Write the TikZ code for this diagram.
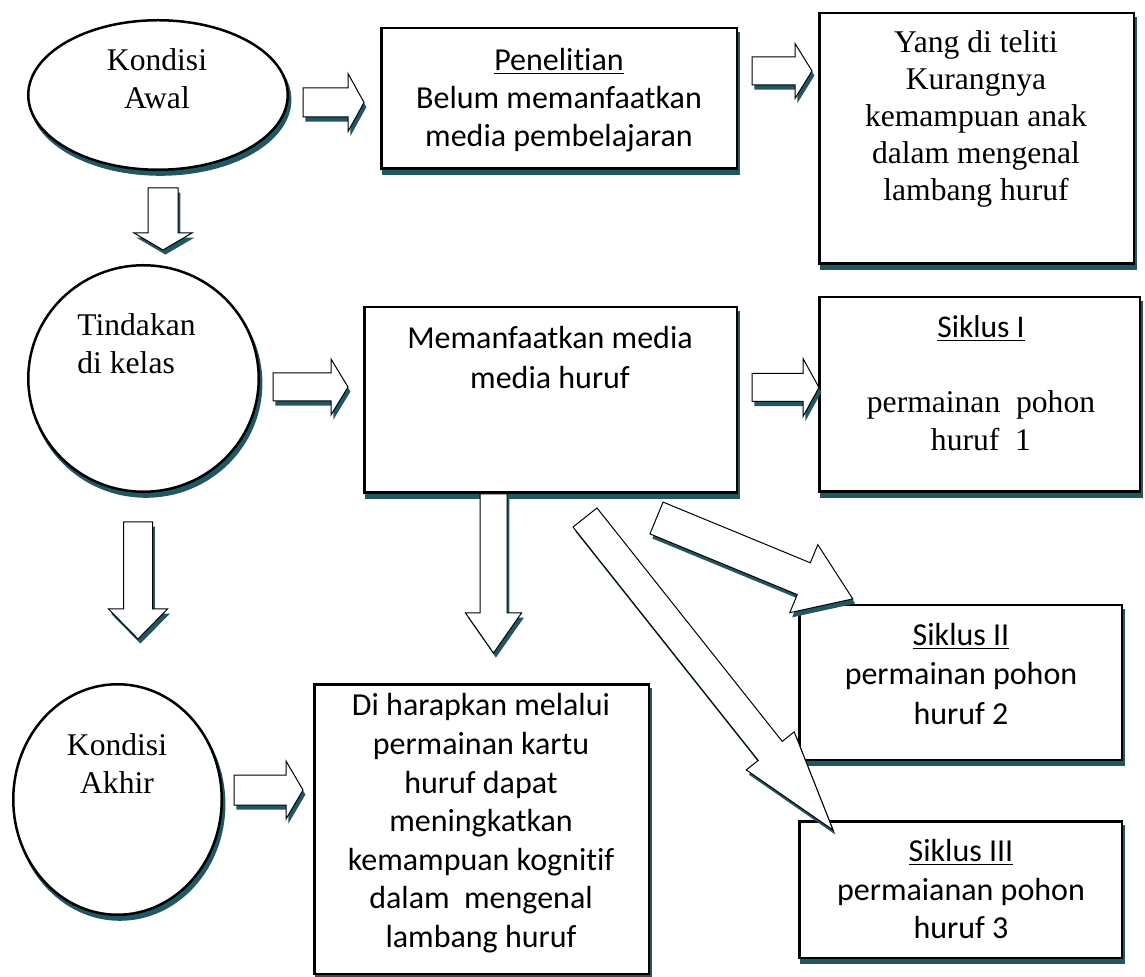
\documentclass[tikz,border=0pt]{standalone}
\usepackage{fontspec}
\setmainfont{Liberation Serif}
\newfontfamily\calibri[RawFeature=-liga]{Carlito}
\usetikzlibrary{calc,shapes.geometric,shadows}
\definecolor{bayang}{RGB}{33,87,99}

\tikzstyle{kotak}=[draw, line width=1.25pt, fill=white, inner sep=0pt,
  drop shadow={shadow xshift=1.2pt, shadow yshift=-2.4pt, fill=bayang, draw=bayang, opacity=1}]
\tikzstyle{bulat}=[kotak, ellipse]
\tikzstyle{panah}=[draw, line width=0.5pt, fill=white,
  drop shadow={shadow xshift=1.2pt, shadow yshift=-2.3pt, fill=bayang, opacity=1}]
\tikzstyle{ba}=[shift={(\p1)}, rotate=\n1]
\tikzstyle{tserif}=[font=\fontsize{15.8}{19}\selectfont, align=center, inner sep=0pt, anchor=north]
\tikzstyle{tsans}=[font=\calibri\fontsize{16}{19}\selectfont, align=center, inner sep=0pt, anchor=north]

% block arrow: from, to, half shaft, half head, head length
\newcommand{\panah}[5]{%
  \path[panah] let \p1=(#1), \p2=(#2),
    \n1={atan2(\y2-\y1,\x2-\x1)}, \n2={veclen(\x2-\x1,\y2-\y1)} in
    ([ba]0pt,-#3) -- ([ba]{\n2-#5},-#3) -- ([ba]{\n2-#5},-#4) -- ([ba]{\n2+0pt},0pt)
    -- ([ba]{\n2-#5},#4) -- ([ba]{\n2-#5},#3) -- ([ba]0pt,#3) -- cycle;}

\begin{document}
\begin{tikzpicture}[x=0.5pt, y=-0.5pt]
\useasboundingbox (0,0) rectangle (1145,977);

\node[bulat, minimum width=129.75pt, minimum height=74.75pt] (awal) at (158,95) {};
\node[bulat, minimum width=115.25pt, minimum height=113.25pt] (tindakan) at (143.5,378.5) {};
\node[bulat, minimum width=104.25pt, minimum height=115.25pt] (akhir) at (117.5,799.5) {};

\node[kotak, minimum width=177.75pt, minimum height=70.25pt] (teliti) at (559,98.5) {};
\node[kotak, minimum width=157.25pt, minimum height=125.25pt] (kurang) at (976.5,138.5) {};
\node[kotak, minimum width=186.25pt, minimum height=92.75pt] (media) at (550.5,400) {};
\node[kotak, minimum width=160.25pt, minimum height=97.25pt] (siklus1) at (979.5,394.5) {};
\node[kotak, minimum width=161.25pt, minimum height=77.25pt] (siklus2) at (960.5,682.5) {};
\node[kotak, minimum width=161.25pt, minimum height=68.25pt] (siklus3) at (960.5,889.5) {};
\node[kotak, minimum width=167.25pt, minimum height=144.75pt] (harapan) at (481.5,829) {};

\node[tserif] (tawal) at (157,43.4) {\strut Kondisi\\Awal};
\node[tserif, anchor=north west, align=left] (ttindakan) at (77,308.4) {\strut Tindakan\\di kelas};
\node[tserif] (takhir) at (117,728.4) {\strut Kondisi\\Akhir};
\node[tsans] (tteliti) at (559,43.4) {\strut\underline{Penelitian}\\Belum memanfaatkan\\media pembelajaran};
\node[tserif, font=\fontsize{15.8}{18.5}\selectfont] (tkurang) at (976,26.4)
  {\strut Yang di teliti\\Kurangnya\\kemampuan anak\\dalam mengenal\\lambang huruf};
\node[tsans, font=\calibri\fontsize{16}{20}\selectfont] (tmedia) at (550,320.4) {\strut Memanfaatkan media\\media huruf};
\node[tserif] (tsiklus1) at (981,310.4)
  {\strut{\calibri\underline{Siklus I}}\\[18.5pt]permainan\ \ pohon\\huruf\ \ 1};
\node[tsans, font=\calibri\fontsize{16}{19.75}\selectfont] (tsiklus2) at (961,617.4)
  {\strut\underline{Siklus II}\\permainan pohon\\huruf 2};
\node[tsans, font=\calibri\fontsize{16}{19.25}\selectfont] (tsiklus3) at (961,834.4)
  {\strut\underline{Siklus III}\\permaianan pohon\\huruf 3};
\node[tsans, font=\calibri\fontsize{16}{19.3}\selectfont] (tharapan) at (481,688.4)
  {\strut Di harapkan melalui\\permainan kartu\\huruf dapat\\meningkatkan\\kemampuan kognitif\\dalam\ \ mengenal\\lambang huruf};

\coordinate (p1a) at (303,102.5); \coordinate (p1b) at (364,102.5);
\coordinate (p2a) at (752,71); \coordinate (p2b) at (812,71);
\coordinate (p3a) at (273,387); \coordinate (p3b) at (348,387);
\coordinate (p4a) at (752,387.5); \coordinate (p4b) at (819,387.5);
\coordinate (p5a) at (234,790); \coordinate (p5b) at (303,790);
\coordinate (d1a) at (163,188); \coordinate (d1b) at (163,250);
\coordinate (d2a) at (138,522); \coordinate (d2b) at (138,639);
\coordinate (d3a) at (493.5,494); \coordinate (d3b) at (493.5,653);
\coordinate (s2a) at (656.5,518); \coordinate (s2b) at (853,599);
\coordinate (s3a) at (585,517.5); \coordinate (s3b) at (833,830);

\panah{p1a}{p1b}{7.25pt}{14.5pt}{8pt}
\panah{p2a}{p2b}{7pt}{13.75pt}{8.5pt}
\panah{p3a}{p3b}{7pt}{14pt}{8.5pt}
\panah{p4a}{p4b}{7pt}{14.5pt}{8pt}
\panah{p5a}{p5b}{7.5pt}{14.5pt}{8.5pt}
\panah{d1a}{d1b}{7.5pt}{14.5pt}{8.5pt}
\panah{d2a}{d2b}{7.25pt}{14.75pt}{15pt}
\panah{d3a}{d3b}{6.75pt}{14pt}{20pt}
\panah{s2a}{s2b}{8.6pt}{18.4pt}{26.5pt}
\panah{s3a}{s3b}{7.65pt}{15.3pt}{50.5pt}

\end{tikzpicture}
\end{document}
